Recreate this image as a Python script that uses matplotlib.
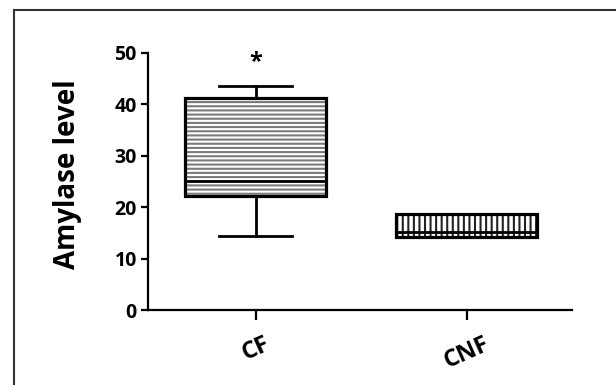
import matplotlib.pyplot as plt
from matplotlib.lines import Line2D

plt.rcParams['font.family'] = ['Open Sans', 'DejaVu Sans']
plt.rcParams['hatch.linewidth'] = 1.5

groups = ['CF', 'CNF']
q1 = [22.2, 14.2]
med = [25.1, 15.1]
q3 = [41.3, 18.6]
whis_lo = [14.4, 14.2]
whis_hi = [43.5, 18.6]
y_ticks = [0, 10, 20, 30, 40, 50]
star_y = 48.2

stats = []
for i in range(len(groups)):
    stats.append({'label': groups[i], 'q1': q1[i], 'med': med[i], 'q3': q3[i],
                  'whislo': whis_lo[i], 'whishi': whis_hi[i], 'fliers': []})

fig = plt.figure(figsize=(6.16, 3.85), dpi=100)
ax = fig.add_axes([148 / 616, 1 - 310 / 385, (572 - 148) / 616, (310 - 53) / 385])

pos = [1, 2]
hatches = ['----', '|||']
hcolors = ['#7a7a7a', '#222222']
# hatch fill first
for i in range(2):
    b = ax.bxp([stats[i]], positions=[pos[i]], widths=0.67, patch_artist=True,
               showcaps=False, boxprops=dict(facecolor='white', edgecolor=hcolors[i],
                                             linewidth=0, hatch=hatches[i]),
               whiskerprops=dict(linewidth=0), medianprops=dict(linewidth=0))
# outlines on top
ax.bxp(stats, positions=pos, widths=0.67, capwidths=0.35, patch_artist=True,
       boxprops=dict(facecolor='none', edgecolor='black', linewidth=2.3),
       whiskerprops=dict(color='black', linewidth=2.0),
       capprops=dict(color='black', linewidth=2.0),
       medianprops=dict(color='black', linewidth=2.0))

ax.text(1, star_y, '*', ha='center', va='center', fontsize=17, fontweight='bold')

ax.set_xlim(0.49, 2.5)
ax.set_ylim(0, 50)
ax.set_yticks(y_ticks)
ax.set_yticklabels([str(v) for v in y_ticks], fontsize=14, fontweight='bold')
ax.set_xticks(pos)
ax.set_xticklabels(groups, fontsize=17, fontweight='bold', rotation=24)
ax.set_ylabel('Amylase level', fontsize=20, fontweight='bold')
ax.yaxis.set_label_coords(-0.155, 0.53)
for s in ['top', 'right']:
    ax.spines[s].set_visible(False)
for s in ['left', 'bottom']:
    ax.spines[s].set_linewidth(1.6)
ax.tick_params(axis='both', width=1.6, length=5)
ax.tick_params(axis='x', length=7, pad=9)
ax.tick_params(axis='y', pad=3)

# outer frame (top and left only)
fig.add_artist(Line2D([13.5 / 616, 13.5 / 616], [0, 1 - 9.5 / 385], color='#333333', lw=1.5))
fig.add_artist(Line2D([13.5 / 616, 1], [1 - 9.5 / 385, 1 - 9.5 / 385], color='#333333', lw=1.5))

fig.savefig('out.png', dpi=100)
